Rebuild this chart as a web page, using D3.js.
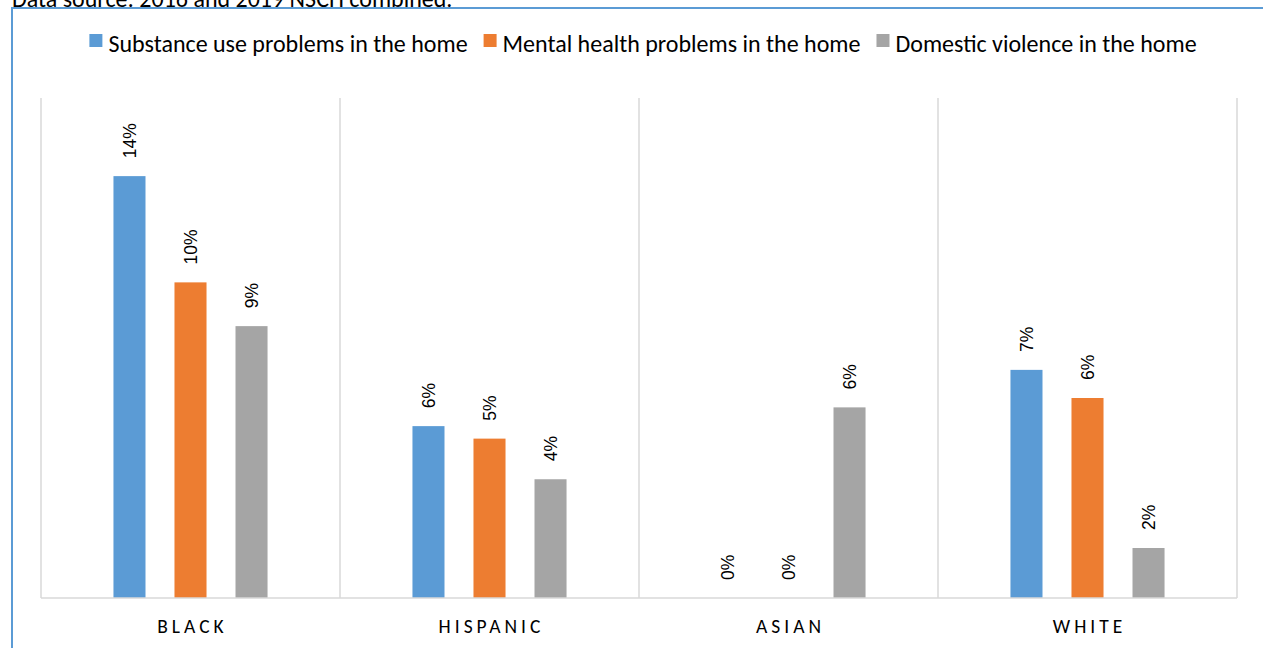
<!DOCTYPE html>
<html>
<head>
<meta charset="utf-8">
<script src="https://cdn.jsdelivr.net/npm/d3@7"></script>
<style>
  html, body { margin: 0; padding: 0; background: #fff; overflow: hidden; }
  svg { display: block; }
  text { font-family: Carlito, Lato, "Open Sans", sans-serif; fill: #000; }
</style>
</head>
<body>
<svg id="chart" width="1263" height="648"></svg>
<script>
const categories = ["BLACK", "HISPANIC", "ASIAN", "WHITE"];
const seriesNames = [
  "Substance use problems in the home",
  "Mental health problems in the home",
  "Domestic violence in the home"
];
const substanceUse   = [13.5, 5.5, 0, 7.3];
const mentalHealth   = [10.1, 5.1, 0, 6.4];
const domesticViol   = [8.7, 3.8, 6.1, 1.6];
const seriesColors = ["#5b9bd5", "#ed7d31", "#a5a5a5"];
const sourceNote = "Data source: 2016 and 2019 NSCH combined.";
const yMax = 16;

const seriesValues = [substanceUse, mentalHealth, domesticViol];

const svg = d3.select("#chart");
const W = 1263, H = 648;
const plot = { left: 41, right: 1237, top: 98, bottom: 598 };

// outer border (frame)
svg.append("rect")
  .attr("x", 12).attr("y", 8)
  .attr("width", W + 20).attr("height", H + 20)
  .attr("fill", "none").attr("stroke", "#5b9bd5").attr("stroke-width", 2);

// source note (partially cut off at top, as in the reference)
svg.append("text")
  .attr("x", 12).attr("y", 7)
  .style("font-size", "24px")
  .text(sourceNote);

const x0 = d3.scaleBand().domain(categories).range([plot.left, plot.right]).padding(0);
const x1 = d3.scaleBand().domain(seriesNames).range([0, x0.bandwidth()])
  .paddingInner(0.475).paddingOuter(1.1875);
const y = d3.scaleLinear().domain([0, yMax]).range([plot.bottom, plot.top]);

// vertical gridlines at category boundaries
const bounds = categories.map(c => x0(c)).concat([plot.right]);
svg.append("g").selectAll("line").data(bounds).join("line")
  .attr("x1", d => d).attr("x2", d => d)
  .attr("y1", plot.top).attr("y2", plot.bottom)
  .attr("stroke", "#d9d9d9").attr("stroke-width", 1.5);

// bars
const groups = svg.append("g").selectAll("g").data(categories).join("g")
  .attr("transform", c => `translate(${x0(c)},0)`);

groups.each(function(c, ci) {
  const g = d3.select(this);
  seriesNames.forEach((s, si) => {
    const v = seriesValues[si][ci];
    if (v > 0) {
      g.append("rect")
        .attr("x", x1(s)).attr("width", x1.bandwidth())
        .attr("y", y(v)).attr("height", y(0) - y(v))
        .attr("fill", seriesColors[si]);
    }
    const lx = x1(s) + x1.bandwidth() / 2;
    const ly = y(v) - 18;
    g.append("text")
      .attr("transform", `translate(${lx},${ly}) rotate(-90)`)
      .attr("dy", "0.36em")
      .attr("text-anchor", "start")
      .style("font-family", "'Liberation Sans', Arial, sans-serif")
      .style("font-size", "17.5px")
      .text(d3.format(".0f")(v) + "%");
  });
});

// baseline
svg.append("line")
  .attr("x1", plot.left).attr("x2", plot.right)
  .attr("y1", plot.bottom).attr("y2", plot.bottom)
  .attr("stroke", "#d9d9d9").attr("stroke-width", 1.5);

// category axis labels
const xAxis = d3.axisBottom(x0).tickSize(0).tickPadding(0);
const axG = svg.append("g").attr("transform", `translate(0,${plot.bottom})`).call(xAxis);
axG.select(".domain").remove();
axG.selectAll("text")
  .attr("y", 35).attr("dy", 0)
  .attr("dx", "2px")
  .style("font-size", "19.5px")
  .style("letter-spacing", "4px")
  .style("font-family", "Carlito, Lato, 'Open Sans', sans-serif")
  .attr("fill", "#000");

// legend
const leg = svg.append("g");
const sq = 13, gapSqText = 6, gapItems = 16;
const items = seriesNames.map((s, i) => {
  const g = leg.append("g");
  g.append("rect").attr("x", 0).attr("y", -sq + 1).attr("width", sq).attr("height", sq)
    .attr("fill", seriesColors[i]);
  const t = g.append("text").attr("x", sq + gapSqText).attr("y", 6)
    .style("font-size", "24px").text(s);
  return { g, w: sq + gapSqText + t.node().getComputedTextLength() };
});
const totalW = d3.sum(items, d => d.w) + gapItems * (items.length - 1);
let cx = 643 - totalW / 2;
items.forEach(it => {
  it.g.attr("transform", `translate(${cx},46)`);
  cx += it.w + gapItems;
});
</script>
</body>
</html>
